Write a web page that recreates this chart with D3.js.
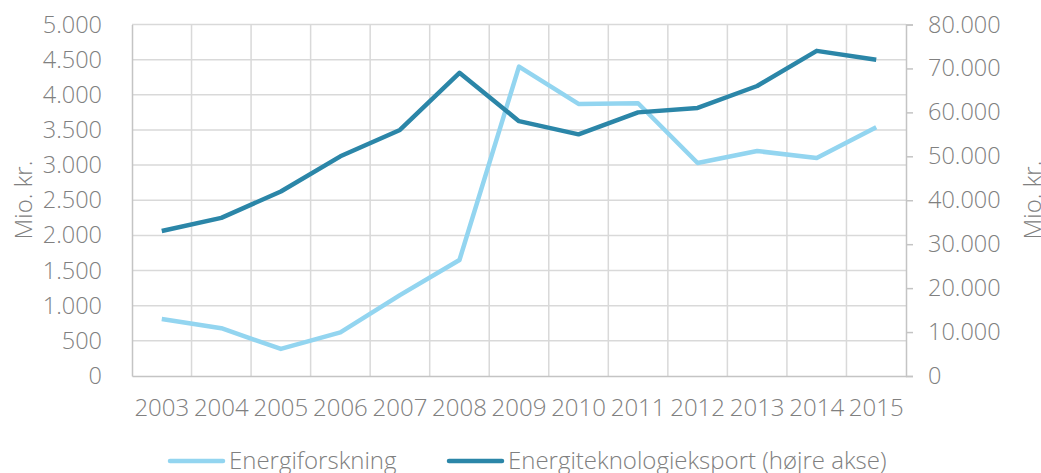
<!DOCTYPE html>
<html>
<head>
<meta charset="utf-8">
<script src="https://cdn.jsdelivr.net/npm/d3@7"></script>
<style>
  body { margin: 0; background: #fff; }
  svg text { font-family: "Open Sans", sans-serif; font-weight: 300; fill: #808080; }
</style>
</head>
<body>
<div id="chart"></div>
<script>
"use strict";

const years = ["2003", "2004", "2005", "2006", "2007", "2008", "2009",
  "2010", "2011", "2012", "2013", "2014", "2015"];

// Mio. kr., left axis
const energiforskning = [810, 680, 385, 620, 1150, 1650, 4400,
  3870, 3880, 3030, 3200, 3100, 3540];

// Mio. kr., right axis
const eksport = [33000, 36000, 42000, 50000, 56000, 69000, 58000,
  55000, 60000, 61000, 66000, 74000, 72000];

const leftTicks = d3.range(0, 5001, 500);
const rightTicks = d3.range(0, 80001, 10000);

const width = 1041;
const height = 473;
const plot = { left: 132, right: 906, top: 24.5, bottom: 376 };

const lightBlue = "#93d5f0";
const darkBlue = "#2b86a8";
const gridColor = "#d9d9d9";
const axisColor = "#c4c4c4";
const fontSize = 23.5;

const fmt = d3.formatLocale({ decimal: ",", thousands: ".", grouping: [3], currency: ["", " kr."] }).format(",d");

const svg = d3.select("#chart").append("svg")
  .attr("width", width)
  .attr("height", height);

const x = d3.scaleBand()
  .domain(years)
  .range([plot.left, plot.right]);

const yLeft = d3.scaleLinear()
  .domain([0, 5000])
  .range([plot.bottom, plot.top]);

const yRight = d3.scaleLinear()
  .domain([0, 80000])
  .range([plot.bottom, plot.top]);

// horizontal gridlines
svg.append("g")
  .selectAll("line")
  .data(leftTicks.filter(d => d > 0))
  .join("line")
  .attr("x1", plot.left)
  .attr("x2", plot.right)
  .attr("y1", d => yLeft(d))
  .attr("y2", d => yLeft(d))
  .attr("stroke", gridColor)
  .attr("stroke-width", 1.5);

// vertical gridlines at band edges
svg.append("g")
  .selectAll("line")
  .data(years.slice(1))
  .join("line")
  .attr("x1", d => x(d))
  .attr("x2", d => x(d))
  .attr("y1", plot.top)
  .attr("y2", plot.bottom)
  .attr("stroke", gridColor)
  .attr("stroke-width", 1.5);

// left axis
const leftAxis = svg.append("g")
  .attr("transform", "translate(" + plot.left + ",0)")
  .call(d3.axisLeft(yLeft).tickValues(leftTicks).tickFormat(fmt).tickSize(0).tickPadding(30));
leftAxis.select(".domain").attr("stroke", axisColor).attr("stroke-width", 1.5);
leftAxis.selectAll("text").attr("font-size", fontSize).attr("fill", null).attr("font-family", null);

// right axis
const rightAxis = svg.append("g")
  .attr("transform", "translate(" + plot.right + ",0)")
  .call(d3.axisRight(yRight).tickValues(rightTicks).tickFormat(fmt).tickSize(7).tickSizeOuter(7).tickPadding(15));
rightAxis.select(".domain").attr("stroke", axisColor).attr("stroke-width", 1.5);
rightAxis.selectAll(".tick line").attr("stroke", axisColor).attr("stroke-width", 1.5);
rightAxis.selectAll("text").attr("font-size", fontSize).attr("fill", null).attr("font-family", null);

// bottom axis
const bottomAxis = svg.append("g")
  .attr("transform", "translate(0," + plot.bottom + ")")
  .call(d3.axisBottom(x).tickSize(0).tickPadding(23));
bottomAxis.select(".domain").attr("stroke", axisColor).attr("stroke-width", 1.5);
bottomAxis.selectAll("text").attr("font-size", 24).attr("fill", null).attr("font-family", null);

// axis titles
svg.append("text")
  .attr("transform", "translate(32,200) rotate(-90)")
  .attr("text-anchor", "middle")
  .attr("font-size", 24)
  .text("Mio. kr.");

svg.append("text")
  .attr("transform", "translate(1041,200) rotate(-90)")
  .attr("text-anchor", "middle")
  .attr("font-size", 24)
  .text("Mio. kr.");

// lines
const cx = d => x(d) + x.bandwidth() / 2;

const lineLeft = d3.line()
  .x((d, i) => cx(years[i]))
  .y(d => yLeft(d));

const lineRight = d3.line()
  .x((d, i) => cx(years[i]))
  .y(d => yRight(d));

svg.append("path")
  .datum(energiforskning)
  .attr("d", lineLeft)
  .attr("fill", "none")
  .attr("stroke", lightBlue)
  .attr("stroke-width", 4.5)
  .attr("stroke-linejoin", "round");

svg.append("path")
  .datum(eksport)
  .attr("d", lineRight)
  .attr("fill", "none")
  .attr("stroke", darkBlue)
  .attr("stroke-width", 4.5)
  .attr("stroke-linejoin", "round");

// legend
const legendItems = [
  { label: "Energiforskning", color: lightBlue, x: 170 },
  { label: "Energiteknologieksport (højre akse)", color: darkBlue, x: 449 }
];

const legend = svg.append("g")
  .selectAll("g")
  .data(legendItems)
  .join("g")
  .attr("transform", d => "translate(" + d.x + ",461)");

legend.append("line")
  .attr("x1", 0)
  .attr("x2", 53)
  .attr("stroke", d => d.color)
  .attr("stroke-width", 4.5)
  .attr("stroke-linecap", "round");

legend.append("text")
  .attr("x", 59)
  .attr("dy", "0.33em")
  .attr("font-size", 24)
  .text(d => d.label);
</script>
</body>
</html>
